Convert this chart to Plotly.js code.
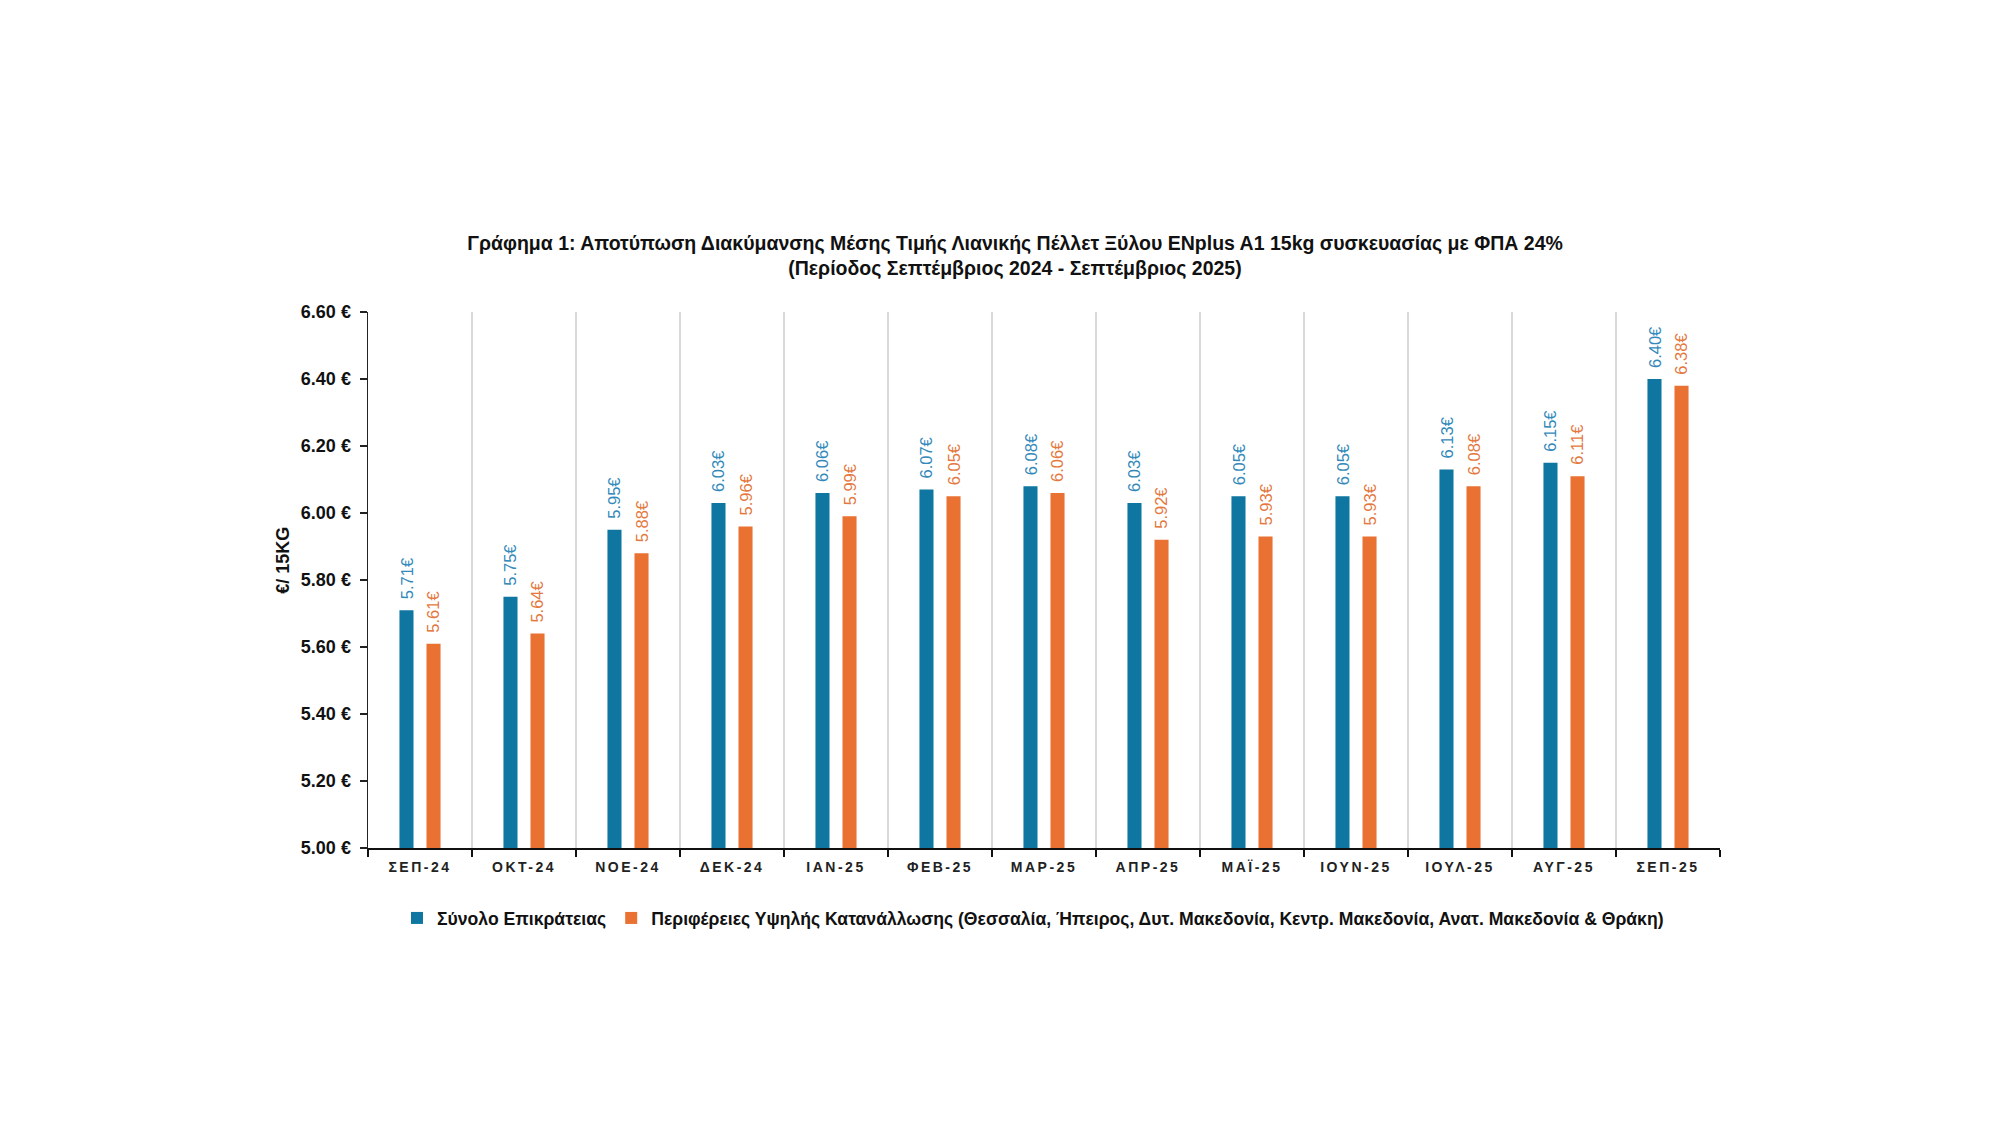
<!DOCTYPE html>
<html>
<head>
<meta charset="utf-8">
<script src="https://cdn.plot.ly/plotly-3.0.1.min.js"></script>
<style>
  html, body { margin: 0; padding: 0; background: #fff; }
  #chart { width: 2000px; height: 1125px; }
  .xtick text { letter-spacing: 2.5px; }
</style>
</head>
<body>
<div id="chart"></div>
<script>
const months = ["ΣΕΠ-24","ΟΚΤ-24","ΝΟΕ-24","ΔΕΚ-24","ΙΑΝ-25","ΦΕΒ-25","ΜΑΡ-25","ΑΠΡ-25","ΜΑΪ-25","ΙΟΥΝ-25","ΙΟΥΛ-25","ΑΥΓ-25","ΣΕΠ-25"];
const national = [5.71,5.75,5.95,6.03,6.06,6.07,6.08,6.03,6.05,6.05,6.13,6.15,6.40];
const highRegions = [5.61,5.64,5.88,5.96,5.99,6.05,6.06,5.92,5.93,5.93,6.08,6.11,6.38];
const seriesNames = ["Σύνολο Επικράτειας","Περιφέρειες Υψηλής Κατανάλλωσης (Θεσσαλία, Ήπειρος, Δυτ. Μακεδονία, Κεντρ. Μακεδονία, Ανατ. Μακεδονία & Θράκη)"];
const yTicks = [5.0,5.2,5.4,5.6,5.8,6.0,6.2,6.4,6.6];
const yTickText = yTicks.map(v => v.toFixed(2) + " €");
const yTitle = "€/ 15KG";

const blue = "#0E76A0", orange = "#E97132";
const blueTxt = "#3389BA", orangeTxt = "#E4783E";
const sans = "'Liberation Sans', Arial, sans-serif";

const traces = [
  {type:"bar", name:seriesNames[0], x:months, y:national, marker:{color:blue}, hoverinfo:"none"},
  {type:"bar", name:seriesNames[1], x:months, y:highRegions, marker:{color:orange}, hoverinfo:"none"}
];

function labels(vals, shift, color){
  return vals.map((v,i)=>({
    x: months[i], y: v, xref:"x", yref:"y",
    text: v.toFixed(2)+"€", showarrow:false, textangle:-90,
    xanchor:"center", yanchor:"bottom", xshift: shift, yshift: 9,
    font:{family:sans, size:16.5, color:color}
  }));
}

const annotations = labels(national, -13.5, blueTxt).concat(labels(highRegions, 13.5, orangeTxt));
annotations.push({
  xref:"paper", yref:"paper", x:0, y:0.536, xshift:-85,
  text:yTitle, showarrow:false, textangle:-90, xanchor:"center", yanchor:"middle",
  font:{family:sans, size:18, color:"#111", weight:"bold"}
});

const layout = {
  width:2000, height:1125,
  paper_bgcolor:"#fff", plot_bgcolor:"#fff",
  margin:{l:368, r:280, t:312, b:277, pad:0},
  barmode:"group", bargap:0.48, bargroupgap:0.48,
  title:{
    text:"Γράφημα 1: Αποτύπωση Διακύμανσης Μέσης Τιμής Λιανικής Πέλλετ Ξύλου ENplus A1 15kg συσκευασίας με ΦΠΑ 24%<br>(Περίοδος Σεπτέμβριος 2024 - Σεπτέμβριος 2025)",
    font:{family:sans, size:19.5, color:"#111", weight:"bold"},
    xref:"container", x:0.5075, xanchor:"center",
    yref:"container", y:1-250/1125, yanchor:"middle"
  },
  xaxis:{
    type:"category", tickson:"boundaries",
    showline:true, linecolor:"#111", linewidth:2,
    ticks:"outside", ticklen:7, tickwidth:2, tickcolor:"#111",
    ticklabelstandoff:5,
    showgrid:true, gridcolor:"#D9D9D9", gridwidth:2,
    tickfont:{family:sans, size:14, color:"#222", weight:"bold"},
    fixedrange:true
  },
  yaxis:{
    range:[5.0,6.6], tickmode:"array", tickvals:yTicks, ticktext:yTickText,
    showline:true, linecolor:"#222", linewidth:1.5,
    ticks:"outside", ticklen:7, tickwidth:1.5, tickcolor:"#222",
    ticklabelstandoff:5,
    showgrid:false, zeroline:false,
    tickfont:{family:sans, size:18, color:"#111", weight:"bold"},
    fixedrange:true
  },
  showlegend:true,
  legend:{
    orientation:"h", xref:"container", x:0.5165, xanchor:"center",
    yref:"container", y:1-918/1125, yanchor:"middle",
    font:{family:sans, size:17.6, color:"#111", weight:"bold"},
    itemclick:false, itemdoubleclick:false, traceorder:"normal"
  },
  annotations: annotations
};

Plotly.newPlot("chart", traces, layout, {displayModeBar:false, staticPlot:true});
</script>
</body>
</html>
